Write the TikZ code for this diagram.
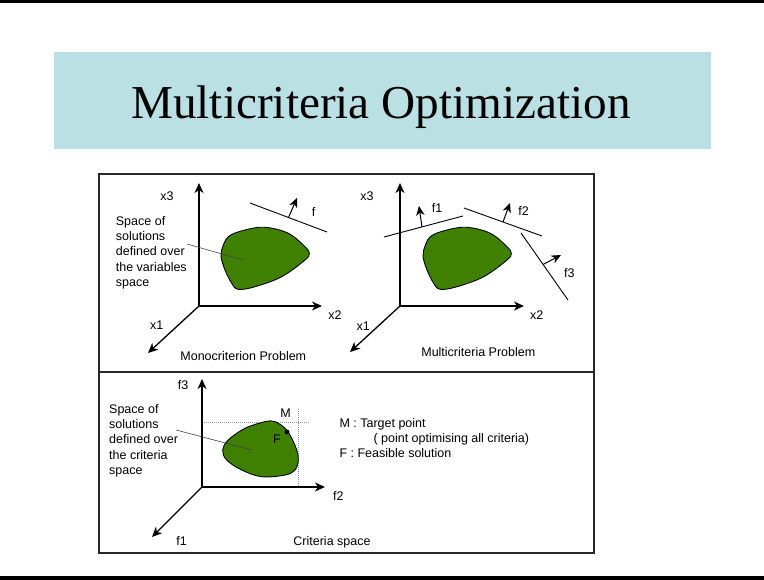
\documentclass[tikz,border=0pt]{standalone}
\usepackage{fontspec}
\setmainfont{Liberation Serif}
\newfontfamily\arialfont{Liberation Sans}
\usetikzlibrary{arrows.meta}
\definecolor{titlebg}{RGB}{187,224,227}
\definecolor{blobgreen}{RGB}{64,128,0}
\definecolor{framegray}{RGB}{40,40,40}

\begin{document}
\begin{tikzpicture}[x=1pt,y=-1pt,
  lbl/.style={font=\arialfont\fontsize{12.5}{15.3}\selectfont, inner sep=0pt},
  note/.style={lbl, align=left, anchor=north west},
  axis/.style={line width=1.3pt, -{Stealth[length=10pt,width=9pt,inset=3pt]}},
  objline/.style={line width=0.9pt},
  objarrow/.style={line width=1pt, -{Stealth[length=9.5pt,width=8.5pt,inset=3pt]}},
  region/.style={draw=black, line width=0.9pt, fill=blobgreen},
  leader/.style={line width=0.6pt, draw=black!75},
  guide/.style={draw=black!40, line width=1pt, densely dotted},
  panel/.style={draw=framegray, line width=1.3pt},
  blob/.pic={
    \path[region] plot[smooth cycle, tension=0.6] coordinates {
      (0.7,23) (7.3,9.7) (24,3) (44,0.3) (67.3,6.3) (84,19.7) (88.3,26.3)
      (84,33) (60.7,49.7) (34,59.7) (17.3,62.3) (10.7,56.3) (4,43) (0,29.7)};
  }
]
\useasboundingbox (0,0) rectangle (764,580);

% slide rules at top and bottom
\draw[line width=3pt] (0,1.5) -- (764,1.5);
\draw[line width=3.5pt] (0,578) -- (764,578);

% title band
\fill[titlebg] (54,52) rectangle (711,149);
\node[inner sep=0pt, anchor=base, font=\fontsize{47.2}{52}\selectfont] (title) at (381,118.3) {Multicriteria Optimization};

% frame of the three panels
\draw[panel] (99,174) rectangle (594,553);
\draw[panel] (99,372) -- (594,372);

% ---------- monocriterion problem ----------
\coordinate (oa) at (199,306);
\coordinate (ax3) at (199,183);
\coordinate (ax2) at (322,306);
\coordinate (ax1) at (148,353);
\draw[axis] (oa) -- (ax3);
\draw[axis] (oa) -- (ax2);
\draw[axis] (oa) -- (ax1);
\node[lbl, anchor=base] (ax3l) at (167,200.5) {x3};
\node[lbl, anchor=base] (ax2l) at (335,319.3) {x2};
\node[lbl, anchor=base] (ax1l) at (156.7,330) {x1};

\pic at (221,227) {blob};

\coordinate (fa) at (250,203);
\coordinate (fb) at (327,232);
\coordinate (fm) at (288.5,217.5);
\coordinate (ft) at (297,198);
\draw[objline] (fa) -- (fb);
\draw[objarrow] (fm) -- (ft);
\node[lbl, anchor=base] (fl) at (313.7,216.7) {f};

\node[note] (spacea) at (115.7,216) {Space of\\solutions\\defined over\\the variables\\space};
\coordinate (lda) at (187,244);
\coordinate (ldb) at (243,260);
\draw[leader] (lda) -- (ldb);

\node[lbl, anchor=base] (monot) at (243.3,360.5) {Monocriterion Problem};

% ---------- multicriteria problem ----------
\coordinate (ob) at (400,306);
\coordinate (bx3) at (400,183);
\coordinate (bx2) at (524,306);
\coordinate (bx1) at (350,352);
\draw[axis] (ob) -- (bx3);
\draw[axis] (ob) -- (bx2);
\draw[axis] (ob) -- (bx1);
\node[lbl, anchor=base] (bx3l) at (367,200.5) {x3};
\node[lbl, anchor=base] (bx2l) at (536.7,319.3) {x2};
\node[lbl, anchor=base] (bx1l) at (363.3,330.5) {x1};

\pic at (423,227) {blob};

\coordinate (g1a) at (384,237);
\coordinate (g1b) at (463,216);
\coordinate (g1m) at (422,227);
\coordinate (g1t) at (419,206);
\draw[objline] (g1a) -- (g1b);
\draw[objarrow] (g1m) -- (g1t);
\node[lbl, anchor=base] (g1l) at (437,212.3) {f1};

\coordinate (g2a) at (464,208);
\coordinate (g2b) at (542,236);
\coordinate (g2m) at (503,222);
\coordinate (g2t) at (510,203);
\draw[objline] (g2a) -- (g2b);
\draw[objarrow] (g2m) -- (g2t);
\node[lbl, anchor=base] (g2l) at (523.7,215.7) {f2};

\coordinate (g3a) at (521,233);
\coordinate (g3b) at (568,300);
\coordinate (g3m) at (543,264.5);
\coordinate (g3t) at (561,255);
\draw[objline] (g3a) -- (g3b);
\draw[objarrow] (g3m) -- (g3t);
\node[lbl, anchor=base] (g3l) at (569.3,277.7) {f3};

\node[lbl, anchor=base] (multit) at (478.3,356.7) {Multicriteria Problem};

% ---------- criteria space ----------
\coordinate (oc) at (202,487);
\coordinate (cf3) at (202,379);
\coordinate (cf2) at (325,487);
\coordinate (cf1) at (152,537);
\coordinate (gh0) at (202,422);
\coordinate (gh1) at (310,422);
\coordinate (gv0) at (298,409);
\coordinate (gv1) at (298,487);
\draw[guide] (gh0) -- (gh1);
\draw[guide] (gv0) -- (gv1);
\draw[axis] (oc) -- (cf3);
\draw[axis] (oc) -- (cf2);
\draw[axis] (oc) -- (cf1);
\node[lbl, anchor=base] (cf3l) at (183,389) {f3};
\node[lbl, anchor=base] (cf2l) at (338.3,500.7) {f2};
\node[lbl, anchor=base] (cf1l) at (181.7,545) {f1};

\path[region] plot[smooth cycle, tension=0.6] coordinates {
  (222.7,450) (228.3,440) (245,428.3) (265,421.7) (275,421.7) (285,428.3)
  (291.7,438.3) (296.7,450) (298.3,460) (295,470) (285,475) (261.7,476.7)
  (241.7,470) (226.7,460)};

\fill (287,432) circle (2.5);
\node[lbl, anchor=base] (ml) at (285.7,417.3) {M};
\node[lbl, anchor=base] (fsl) at (277,443.3) {F};

\node[note] (spacec) at (109,404) {Space of\\solutions\\defined over\\the criteria\\space};
\coordinate (lca) at (176,430);
\coordinate (lcb) at (252,450);
\draw[leader] (lca) -- (lcb);

\node[lbl, anchor=base west] (keym) at (339.3,427.3) {M : Target point};
\node[lbl, anchor=base west] (keyp) at (373.3,442.3) {( point optimising all criteria)};
\node[lbl, anchor=base west] (keyf) at (339.3,457.3) {F : Feasible solution};

\node[lbl, anchor=base] (critt) at (332,545.5) {Criteria space};
\end{tikzpicture}
\end{document}
